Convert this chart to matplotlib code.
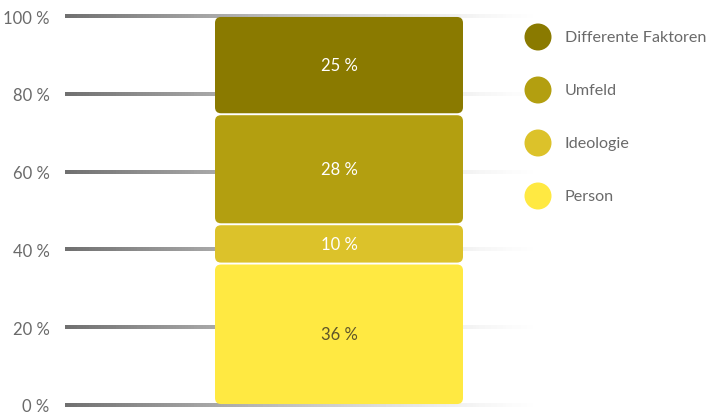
import numpy as np
import matplotlib
matplotlib.use("Agg")
import matplotlib.pyplot as plt
from matplotlib.patches import FancyBboxPatch, Ellipse
from matplotlib.collections import LineCollection

plt.rcParams['font.family'] = ['Lato', 'DejaVu Sans']

# data (bottom to top)
categories = ['Person', 'Ideologie', 'Umfeld', 'Differente Faktoren']
values = [36, 10, 28, 25]
colors = ['#ffe942', '#dcc22a', '#b39f10', '#8a7a00']
label_colors = ['#5e5529', '#ffffff', '#ffffff', '#ffffff']
yticks = [0, 20, 40, 60, 80, 100]

W, H = 710, 414
fig = plt.figure(figsize=(W / 100, H / 100), dpi=100)
ax = fig.add_axes([65 / W, 8 / H, 480 / W, 389 / H])
ax.set_xlim(0, 1)
ax.set_ylim(0, 100)
for s in ax.spines.values():
    s.set_visible(False)
ax.set_xticks([])
ax.set_yticks(yticks)
ax.set_yticklabels(['{} %'.format(t) for t in yticks], fontsize=12, color='#6a6a6a')
ax.tick_params(axis='y', length=0, pad=11)

# fading grid lines
n = 160
xs = np.linspace(0, 1, n + 1)
for t in yticks:
    segs = [[(xs[i], t), (xs[i + 1], t)] for i in range(n)]
    alphas = np.clip(1 - xs[:-1] * 1.02, 0, 1) ** 1.3
    cols = [(0.44, 0.44, 0.44, a) for a in alphas]
    lc = LineCollection(segs, colors=cols, linewidths=1.7, zorder=1, clip_on=False,
                        capstyle='butt', antialiaseds=False)
    ax.add_collection(lc)

# stacked bar, normalised to 100
total = float(sum(values))
shares = [v / total * 100 for v in values]
x_center = (339 - 65) / 480
bar_w = 248 / 480
gap = 0.5
rad = 6 / 480
aspect = 480 / 389 * 100
bottom = 0
for share, v, c, lc_ in zip(shares, values, colors, label_colors):
    patch = FancyBboxPatch((x_center - bar_w / 2, bottom + gap / 2), bar_w, share - gap,
                           boxstyle='round,pad=0,rounding_size={}'.format(rad),
                           mutation_aspect=aspect, facecolor=c, edgecolor='none', zorder=2)
    ax.add_patch(patch)
    ax.text(x_center, bottom + share / 2, '{} %'.format(v), ha='center', va='center',
            fontsize=12, color=lc_, zorder=3)
    bottom += share

# legend on the right
for i, (cat, c) in enumerate(zip(categories[::-1], colors[::-1])):
    y = 1 - (38 + 53 * i) / H
    fig.patches.append(Ellipse((538 / W, y), 27 / W, 27 / H, transform=fig.transFigure,
                               facecolor=c, edgecolor='none'))
    fig.text(565 / W, y, cat, ha='left', va='center', fontsize=11.6, color='#6a6a6a')

fig.savefig('out.png', dpi=100)
